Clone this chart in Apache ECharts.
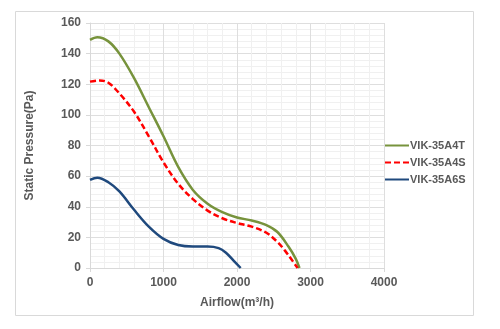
<!DOCTYPE html>
<html>
<head>
<meta charset="utf-8">
<script src="https://cdn.jsdelivr.net/npm/echarts@6/dist/echarts.min.js"></script>
<style>html,body{margin:0;padding:0;background:#fff}#c{width:500px;height:329px}</style>
</head>
<body>
<div id="c"></div>
<script>
const seriesNames = ['VIK-35A4T', 'VIK-35A4S', 'VIK-35A6S'];
const xTicks = [0, 1000, 2000, 3000, 4000];
const yTicks = [0, 20, 40, 60, 80, 100, 120, 140, 160];
const a4tFlow = [0, 100, 250, 400, 600, 800, 1000, 1200, 1400, 1600, 1800, 2000, 2200, 2400, 2550, 2700, 2800, 2850];
const a4tPres = [149, 150.7, 148, 140, 124, 105, 86, 66, 51, 42, 36.5, 33, 31, 28, 23.5, 14, 6, 0];
const a4sFlow = [0, 130, 250, 400, 600, 800, 1000, 1200, 1400, 1600, 1800, 2000, 2200, 2400, 2550, 2650, 2750, 2825];
const a4sPres = [121.7, 122.5, 121, 114, 102, 86, 69, 55, 45, 37.5, 32.5, 29.4, 27, 23, 17, 11.5, 5, 0];
const a6sFlow = [0, 100, 250, 400, 600, 800, 1000, 1200, 1400, 1600, 1750, 1850, 1950, 2050];
const a6sPres = [57.5, 59, 56, 50, 38, 27, 19, 15, 14, 14, 13, 10, 5, 0];

const pair = (xs, ys) => xs.map((x, i) => [x, ys[i]]);
const colors = ['#77933C', '#FF0000', '#1F497D'];
const chart = echarts.init(document.getElementById('c'));
const labelStyle = {color: '#595959', fontWeight: 'bold', fontSize: 12, fontFamily: 'Arial, Liberation Sans, sans-serif'};
const mk = (i, dash) => ({
  name: seriesNames[i], type: 'line', smooth: 0.35, symbol: 'none', showSymbol: false,
  data: pair([a4tFlow, a4sFlow, a6sFlow][i], [a4tPres, a4sPres, a6sPres][i]),
  lineStyle: {color: colors[i], width: 2.5, type: dash ? [6, 3] : 'solid'}, itemStyle: {color: colors[i]}
});
chart.setOption({
  animation: false,
  graphic: [{type: 'rect', shape: {x: 15.5, y: 11.5, width: 458, height: 304}, style: {fill: 'none', stroke: '#d9d9d9', lineWidth: 1}, z: -1}],
  grid: {left: 90, right: 116, top: 23, bottom: 61},
  legend: {
    orient: 'vertical', left: 379, top: 135, itemGap: 6, itemWidth: 24, itemHeight: 12,
    data: seriesNames,
    itemStyle: {opacity: 0},
    textStyle: {color: '#595959', fontWeight: 'bold', fontSize: 11, fontFamily: 'Arial, Liberation Sans, sans-serif', padding: [0, 0, 0, -4]}
  },
  xAxis: {
    type: 'value', min: xTicks[0], max: xTicks[xTicks.length - 1], interval: 1000,
    name: 'Airflow(m³/h)', nameLocation: 'middle', nameGap: 29,
    nameTextStyle: labelStyle,
    axisLine: {lineStyle: {color: '#d9d9d9'}}, axisTick: {show: true, length: 4, lineStyle: {color: '#d9d9d9'}},
    axisLabel: Object.assign({margin: 9, formatter: v => String(v)}, labelStyle),
    splitLine: {lineStyle: {color: '#dedede'}},
    minorTick: {show: false, splitNumber: 5},
    minorSplitLine: {show: true, lineStyle: {color: '#f0f0f0'}}
  },
  yAxis: {
    type: 'value', min: yTicks[0], max: yTicks[yTicks.length - 1], interval: 20,
    name: 'Static Pressure(Pa)', nameLocation: 'middle', nameGap: 54,
    nameTextStyle: labelStyle,
    axisLine: {show: true, lineStyle: {color: '#d9d9d9'}}, axisTick: {show: true, length: 4, lineStyle: {color: '#d9d9d9'}},
    axisLabel: Object.assign({margin: 9, formatter: v => String(v)}, labelStyle),
    splitLine: {lineStyle: {color: '#dedede'}},
    minorTick: {show: false, splitNumber: 5},
    minorSplitLine: {show: true, lineStyle: {color: '#f0f0f0'}}
  },
  series: [mk(0, false), mk(1, true), mk(2, false)]
});
</script>
</body>
</html>
